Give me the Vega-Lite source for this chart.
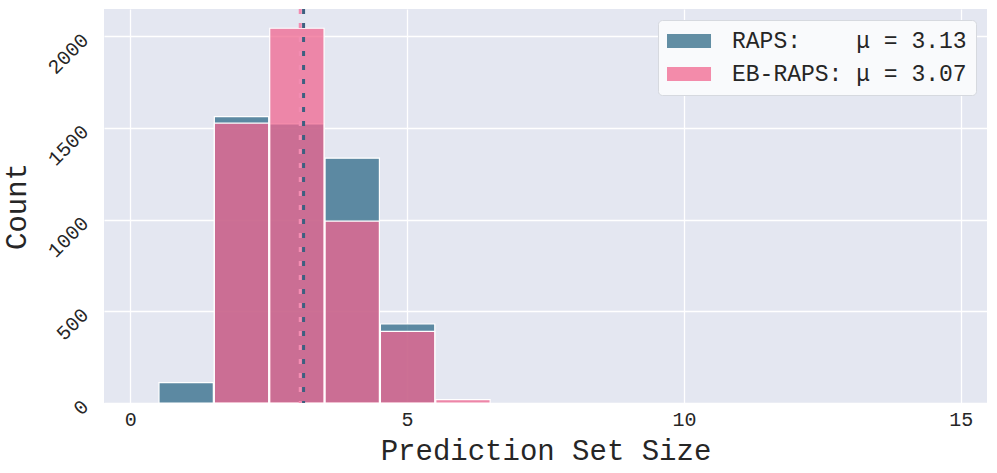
{
  "$schema": "https://vega.github.io/schema/vega-lite/v6.json",
  "width": 883,
  "height": 394,
  "autosize": "none",
  "padding": {"left": 104, "top": 9, "right": 10, "bottom": 70},
  "background": "white",
  "datasets": {
    "hist": [
      {"method": "RAPS", "bin_start": 0.5, "bin_end": 1.5, "count": 111},
      {"method": "RAPS", "bin_start": 1.5, "bin_end": 2.5, "count": 1563},
      {"method": "RAPS", "bin_start": 2.5, "bin_end": 3.5, "count": 1523},
      {"method": "RAPS", "bin_start": 3.5, "bin_end": 4.5, "count": 1336},
      {"method": "RAPS", "bin_start": 4.5, "bin_end": 5.5, "count": 431},
      {"method": "EB-RAPS", "bin_start": 1.5, "bin_end": 2.5, "count": 1527},
      {"method": "EB-RAPS", "bin_start": 2.5, "bin_end": 3.5, "count": 2045},
      {"method": "EB-RAPS", "bin_start": 3.5, "bin_end": 4.5, "count": 993},
      {"method": "EB-RAPS", "bin_start": 4.5, "bin_end": 5.5, "count": 391},
      {"method": "EB-RAPS", "bin_start": 5.5, "bin_end": 6.5, "count": 18}
    ],
    "means": [
      {"method": "EB-RAPS", "mean": 3.07},
      {"method": "RAPS", "mean": 3.13}
    ]
  },
  "layer": [
    {
      "data": {"name": "hist"},
      "mark": {"type": "bar", "fillOpacity": 0.75, "stroke": "white", "strokeWidth": 1.2},
      "encoding": {
        "x": {
          "field": "bin_start",
          "type": "quantitative",
          "bin": "binned",
          "scale": {"domain": [-0.475, 15.475], "nice": false, "zero": false},
          "axis": {"values": [0, 5, 10, 15], "title": "Prediction Set Size", "format": "d"}
        },
        "x2": {"field": "bin_end"},
        "y": {
          "field": "count",
          "type": "quantitative",
          "stack": null,
          "scale": {"domain": [0, 2150], "nice": false},
          "axis": {"values": [0, 500, 1000, 1500, 2000], "title": "Count", "labelAngle": -45, "format": "d"}
        },
        "color": {
          "field": "method",
          "type": "nominal",
          "scale": {"domain": ["RAPS", "EB-RAPS"], "range": ["#2f6a87", "#f0668f"]},
          "legend": {
            "title": null,
            "orient": "top-right",
            "offset": 11,
            "labelLimit": 0,
            "labelExpr": "datum.label == 'RAPS' ? 'RAPS:\u00a0\u00a0\u00a0\u00a0μ = 3.13' : 'EB-RAPS: μ = 3.07'"
          }
        }
      }
    },
    {
      "data": {"name": "means"},
      "mark": {"type": "rule", "strokeWidth": 3, "strokeDash": [5, 9], "strokeDashOffset": 0},
      "encoding": {
        "x": {"field": "mean", "type": "quantitative"},
        "stroke": {
          "field": "method",
          "type": "nominal",
          "scale": {"domain": ["RAPS", "EB-RAPS"], "range": ["#3d6080", "#f38cb1"]},
          "legend": null
        }
      }
    }
  ],
  "config": {
    "view": {"fill": "#e4e7f1", "stroke": null},
    "font": "Liberation Mono",
    "axis": {
      "domain": false,
      "ticks": false,
      "grid": true,
      "gridColor": "white",
      "gridWidth": 1.3,
      "labelFont": "Liberation Mono",
      "labelFontSize": 20,
      "labelColor": "#262626",
      "titleFont": "Liberation Mono",
      "titleFontSize": 29,
      "titleFontWeight": "normal",
      "titleColor": "#262626"
    },
    "axisX": {"labelPadding": 6, "titlePadding": 7},
    "axisY": {"labelPadding": 19, "titlePadding": 12},
    "legend": {
      "symbolType": "M-1,-0.583H2.667V0.583H-1Z",
      "symbolSize": 576,
      "symbolStrokeWidth": 0,
      "symbolOpacity": 0.75,
      "labelFont": "Liberation Mono",
      "labelFontSize": 23,
      "labelColor": "#262626",
      "labelOffset": 41,
      "labelLimit": 0,
      "padding": 9,
      "rowPadding": 9,
      "fillColor": "#f9fafc",
      "strokeColor": "#d6d9df",
      "cornerRadius": 4
    }
  }
}
